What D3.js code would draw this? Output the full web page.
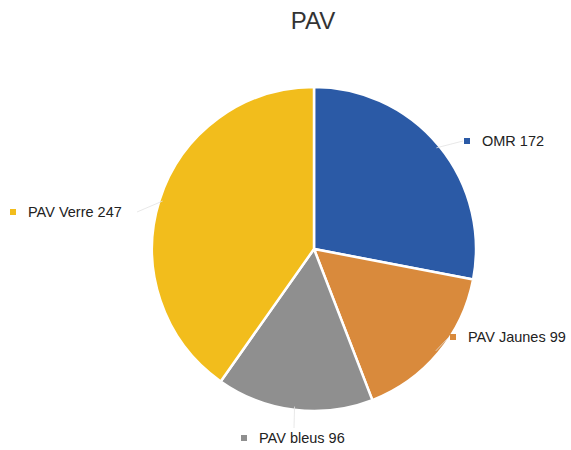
<!DOCTYPE html>
<html><head><meta charset="utf-8">
<script src="https://cdn.jsdelivr.net/npm/d3@7"></script>
<style>body{margin:0;background:#fff}svg{display:block}</style>
</head><body>
<svg id="chart" width="571" height="450"></svg>
<script>
const categories = ["OMR", "PAV Jaunes", "PAV bleus", "PAV Verre"];
const values = [172, 99, 96, 247];
const colors = ["#2b5aa6", "#d98a3c", "#8f8f8f", "#f2bd1c"];
const labelPos = [[467, 141], [453, 337], [244, 438], [13, 212]];

const svg = d3.select("#chart");
const cx = 314, cy = 249, r = 162;
const font = "'Liberation Sans', Arial, sans-serif";

svg.append("text").attr("x", 313).attr("y", 29).attr("text-anchor", "middle")
  .attr("font-family", font).attr("font-size", 24).attr("fill", "#333").text("PAV");

const pie = d3.pie().sort(null).value(d => d)(values);
const arc = d3.arc().innerRadius(0).outerRadius(r);
const g = svg.append("g").attr("transform", `translate(${cx},${cy})`);
g.selectAll("path").data(pie).join("path")
  .attr("d", arc).attr("fill", (d, i) => colors[i])
  .attr("stroke", "#fff").attr("stroke-width", 2.5);

// leader lines
const outer = d3.arc().innerRadius(r * 0.98).outerRadius(r * 0.98);
pie.forEach((d, i) => {
  const [px, py] = outer.centroid(d);
  const [lx, ly] = labelPos[i];
  const ex = i === 3 ? lx + 124 : (i === 2 ? lx + 50 : lx - 4);
  const ey = i === 2 ? ly - 10 : ly;
  svg.append("line").attr("x1", cx + px).attr("y1", cy + py)
    .attr("x2", ex).attr("y2", ey)
    .attr("stroke", "#e2e2e2").attr("stroke-width", 0.8);
});

categories.forEach((c, i) => {
  const [lx, ly] = labelPos[i];
  svg.append("rect").attr("x", lx - 3).attr("y", ly - 3).attr("width", 6).attr("height", 6)
    .attr("fill", colors[i]);
  svg.append("text").attr("x", lx + 15).attr("y", ly + 5)
    .attr("font-family", font).attr("font-size", 14.5).attr("fill", "#222")
    .text(c + " " + values[i]);
});
</script>
</body></html>
